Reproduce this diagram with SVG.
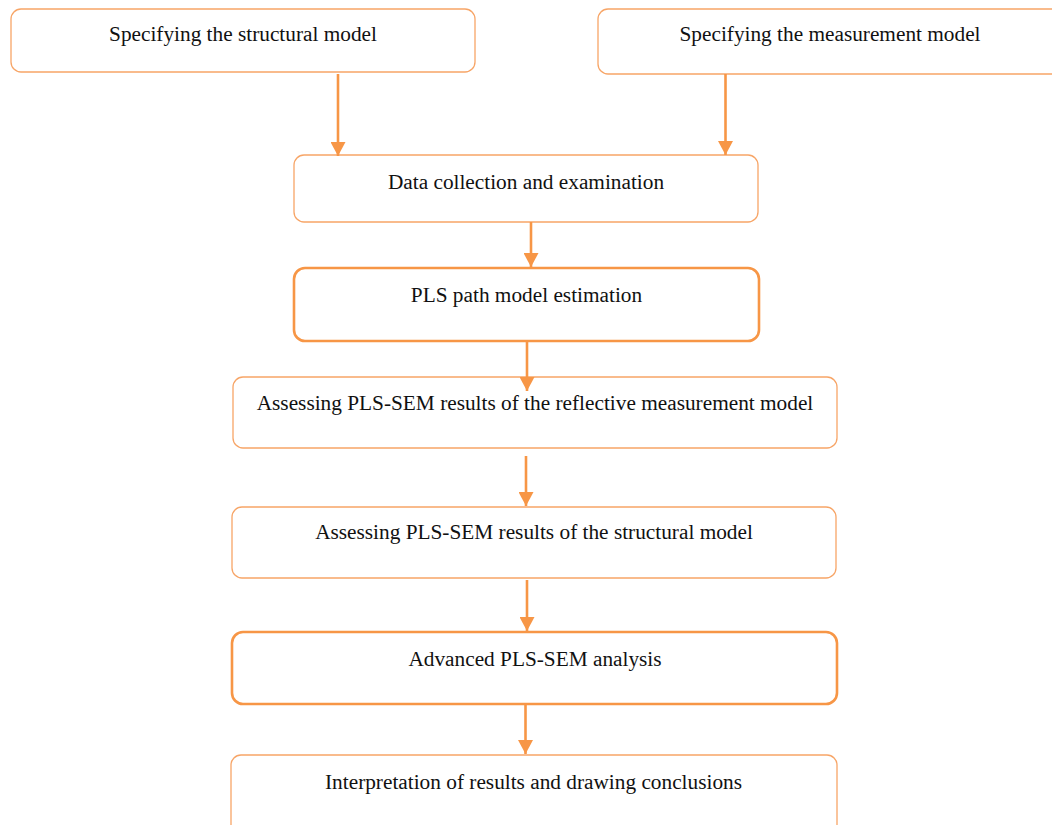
<svg xmlns="http://www.w3.org/2000/svg" width="1052" height="825" viewBox="0 0 1052 825">
<style>
.box{fill:#ffffff;stroke:#F7A567;stroke-width:1.3}
.boxb{fill:#ffffff;stroke:#F79646;stroke-width:2.6}
.lbl{font-family:"Liberation Serif","Times New Roman",serif;font-size:21.3px;fill:#111111;text-anchor:middle}
.edge{stroke:#F79646;stroke-width:2.6;fill:none}
</style>
<defs>
<marker id="ah" markerUnits="userSpaceOnUse" markerWidth="16" markerHeight="15" refX="14" refY="7.5" orient="auto">
<path d="M0,0 L14,7.5 L0,15 Z" fill="#F79646"/>
</marker>
</defs>
<rect width="1052" height="825" fill="#ffffff"/>
<g id="n1"><rect class="box" x="11" y="9" width="464" height="63" rx="10"/><text class="lbl" x="243" y="41">Specifying the structural model</text></g>
<g id="n2"><rect class="box" x="598" y="9" width="470" height="65" rx="10"/><text class="lbl" x="830" y="41">Specifying the measurement model</text></g>
<g id="n3"><rect class="box" x="294" y="155" width="464" height="67" rx="10"/><text class="lbl" x="526" y="189">Data collection and examination</text></g>
<g id="n4"><rect class="boxb" x="294" y="268" width="465" height="73" rx="11"/><text class="lbl" x="526.5" y="302">PLS path model estimation</text></g>
<g id="n5"><rect class="box" x="233" y="377" width="604" height="71" rx="10"/><text class="lbl" x="535" y="410">Assessing PLS-SEM results of the reflective measurement model</text></g>
<g id="n6"><rect class="box" x="232" y="507" width="604" height="71" rx="10"/><text class="lbl" x="534" y="539">Assessing PLS-SEM results of the structural model</text></g>
<g id="n7"><rect class="boxb" x="232" y="632" width="605" height="72" rx="11"/><text class="lbl" x="535" y="666">Advanced PLS-SEM analysis</text></g>
<g id="n8"><rect class="box" x="231" y="755" width="606" height="80" rx="10"/><text class="lbl" x="533.5" y="789">Interpretation of results and drawing conclusions</text></g>
<g id="connectors">
<line class="edge" x1="338" y1="74" x2="338" y2="156" marker-end="url(#ah)"/>
<line class="edge" x1="725.5" y1="74" x2="725.5" y2="155" marker-end="url(#ah)"/>
<line class="edge" x1="531" y1="222" x2="531" y2="267" marker-end="url(#ah)"/>
<line class="edge" x1="527" y1="341" x2="527" y2="391" marker-end="url(#ah)"/>
<line class="edge" x1="526" y1="456" x2="526" y2="506" marker-end="url(#ah)"/>
<line class="edge" x1="527" y1="580" x2="527" y2="631" marker-end="url(#ah)"/>
<line class="edge" x1="525.5" y1="705" x2="525.5" y2="754" marker-end="url(#ah)"/>
</g>
</svg>
